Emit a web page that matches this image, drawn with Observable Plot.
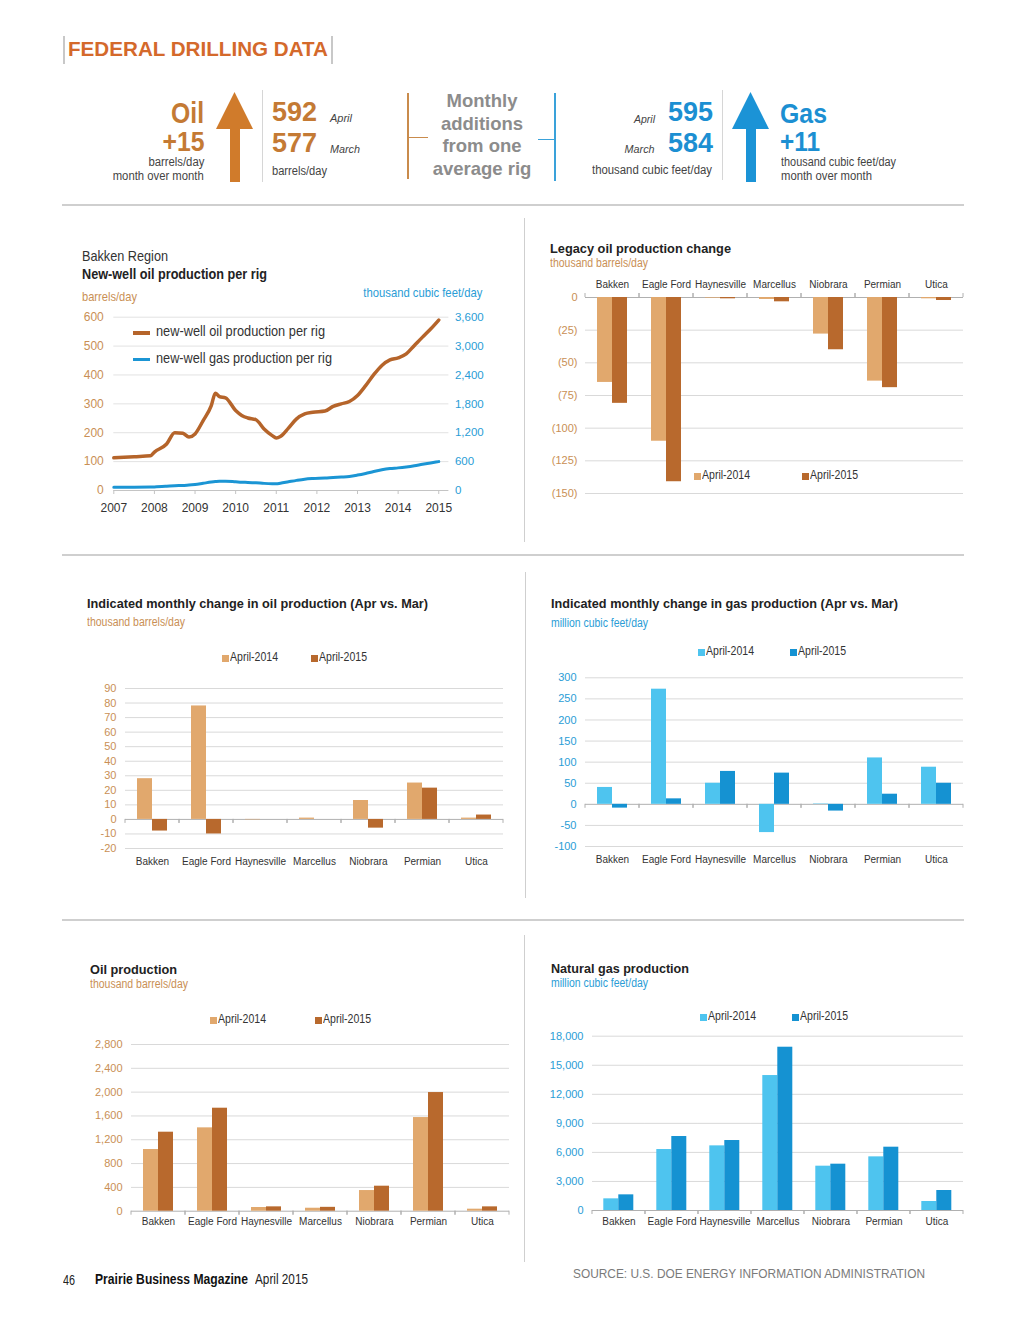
<!DOCTYPE html>
<html><head><meta charset="utf-8">
<script src="https://cdn.jsdelivr.net/npm/d3@7"></script>
<script src="https://cdn.jsdelivr.net/npm/@observablehq/plot@0.6"></script>
<style>
body{margin:0;background:#fff;}
#page{position:relative;width:1024px;height:1329px;overflow:hidden;background:#fff;font-family:"Liberation Sans",Arial,sans-serif;color:#333;}
.t{position:absolute;white-space:nowrap;line-height:1;}
.hl{position:absolute;height:2px;background:#cfcfcf;}
.vl{position:absolute;width:1px;background:#cfcfcf;}
.plot{position:absolute;}
.sq{position:absolute;width:7px;height:7px;}
</style>
</head><body><div id="page"></div>
<script>
// ---------------- DATA ----------------
const regions = ["Bakken","Eagle Ford","Haynesville","Marcellus","Niobrara","Permian","Utica"];
const seriesNames = ["April-2014","April-2015"];

const legacyOil2014 = [-65,-110,-0.5,-1.5,-28,-64,-1];
const legacyOil2015 = [-81,-141,-1,-3.3,-40,-69,-2.3];

const oilChange2014 = [28,78,-0.3,0.9,13,25,0.9];
const oilChange2015 = [-8,-10,0,0,-6,21.5,3];

const gasChange2014 = [40,273,50,-67,1,110,88];
const gasChange2015 = [-9,13,78,74,-16,24,50];

const oilProd2014 = [1036,1400,62,50,347,1573,34];
const oilProd2015 = [1327,1730,73,65,420,1993,73];

const gasProd2014 = [1204,6297,6676,13937,4577,5540,929];
const gasProd2015 = [1617,7640,7227,16862,4783,6538,2065];

// Bakken new-well production per rig
const rigTime = [2007.0,2007.5,2007.9,2008.0,2008.3,2008.5,2008.7,2008.85,2009.0,2009.2,2009.4,2009.5,2009.6,2009.75,2010.0,2010.15,2010.3,2010.5,2010.7,2010.9,2011.0,2011.1,2011.3,2011.5,2011.7,2011.9,2012.2,2012.4,2012.6,2012.8,2013.0,2013.2,2013.4,2013.6,2013.8,2014.0,2014.2,2014.4,2014.6,2014.8,2015.0];
const oilPerRig = [113,117,120,133,161,200,198,185,196,242,294,337,325,321,277,260,251,245,213,190,182,187,216,248,265,271,275,291,300,308,329,363,401,433,452,459,473,502,531,559,590];
const gasPerRig = [70,70,72,75,88,98,105,112,125,150,175,185,192,192,180,172,168,160,148,140,138,150,180,210,235,248,258,270,280,292,320,355,395,430,455,470,490,515,545,572,600];
const rigYears = [2007,2008,2009,2010,2011,2012,2013,2014,2015];
const oilAxisTicks = [0,100,200,300,400,500,600];
const gasAxisTicks = [0,600,1200,1800,2400,3000,3600];

const legacyTicks = [0,-25,-50,-75,-100,-125,-150];
const oilChangeTicks = [-20,-10,0,10,20,30,40,50,60,70,80,90];
const gasChangeTicks = [-100,-50,0,50,100,150,200,250,300];
const oilProdTicks = [0,400,800,1200,1600,2000,2400,2800];
const gasProdTicks = [0,3000,6000,9000,12000,15000,18000];

// ---------------- STYLE ----------------
const oilColors = ["#e1a86d","#b8692d"];
const gasColors = ["#4ec4ef","#1592d2"];
const TAN = "#c98f55", BLUE = "#2a9dd6", OILLINE = "#b5642a", GASLINE = "#1b95d4";
const FONT = "Liberation Sans, Arial, sans-serif";
const page = document.getElementById("page");

// text helper: cy = visual centre, opts.w = target width (horizontal squeeze to mimic narrow type)
function txt(s, x, cy, size, opts = {}) {
  const d = document.createElement("div");
  d.className = "t";
  d.textContent = s;
  d.style.fontSize = size + "px";
  d.style.top = (cy - size * 0.55) + "px";
  let origin = "left";
  if (opts.right !== undefined) { d.style.right = (1024 - opts.right) + "px"; d.style.textAlign = "right"; origin = "right"; }
  else d.style.left = x + "px";
  if (opts.bold) d.style.fontWeight = "bold";
  if (opts.italic) d.style.fontStyle = "italic";
  if (opts.color) d.style.color = opts.color;
  page.appendChild(d);
  if (opts.w) {
    const nat = d.getBoundingClientRect().width;
    if (nat > 0) { d.style.transformOrigin = origin + " center"; d.style.transform = `scaleX(${opts.w / nat})`; }
  }
  return d;
}
function hl(x, y, w, color, h) { const d = document.createElement("div"); d.className = "hl"; Object.assign(d.style, {left: x+"px", top: y+"px", width: w+"px"}); if (color) d.style.background = color; if (h) d.style.height = h+"px"; page.appendChild(d); }
function vl(x, y, h, color, w) { const d = document.createElement("div"); d.className = "vl"; Object.assign(d.style, {left: x+"px", top: y+"px", height: h+"px"}); if (color) d.style.background = color; if (w) d.style.width = w+"px"; page.appendChild(d); }
function sq(x, cy, color) { const d = document.createElement("div"); d.className = "sq"; Object.assign(d.style, {left: x+"px", top: (cy-3.5)+"px", background: color}); page.appendChild(d); }
function place(node, left, top) { node.classList.add("plot"); node.style.left = left + "px"; node.style.top = top + "px"; page.appendChild(node); }
function legend(x1, x2, cy, colors) {
  sq(x1, cy, colors[0]); txt(seriesNames[0], x1 + 8, cy, 12, {w: 48, color: "#333"});
  sq(x2, cy, colors[1]); txt(seriesNames[1], x2 + 8, cy, 12, {w: 48, color: "#333"});
}
function arrow(x, color) {
  const ns = "http://www.w3.org/2000/svg";
  const s = document.createElementNS(ns, "svg");
  s.setAttribute("width", 40); s.setAttribute("height", 92);
  s.style.position = "absolute"; s.style.left = x + "px"; s.style.top = "92px";
  const p = document.createElementNS(ns, "polygon");
  p.setAttribute("points", "18.5,0 37,37 24,37 24,90 14,90 14,37 0,37");
  p.setAttribute("fill", color);
  s.appendChild(p); page.appendChild(s);
}

// ---------------- HEADER ----------------
txt("FEDERAL DRILLING DATA", 68, 50, 20.5, {bold: true, color: "#d4692b", w: 260});
vl(63, 36, 28, "#c8c8c8", 2); vl(331, 36, 28, "#c8c8c8", 2);

const OILH = "#c47a34", GASH = "#1c8fd2", SMALL = "#444";
txt("Oil", 0, 114, 30, {right: 204, bold: true, color: OILH, w: 33});
txt("+15", 0, 143, 28, {right: 204, bold: true, color: OILH, w: 42});
txt("barrels/day", 0, 163, 12, {right: 204, color: SMALL, w: 56});
txt("month over month", 0, 177, 12, {right: 204, color: SMALL, w: 91});
arrow(216, "#d07b2b");
vl(262, 90, 92, "#d6d6d6");
txt("592", 272, 113, 28, {bold: true, color: OILH, w: 45});
txt("April", 330, 119, 11, {italic: true, color: SMALL, w: 22});
txt("577", 272, 144, 28, {bold: true, color: OILH, w: 45});
txt("March", 330, 150, 11, {italic: true, color: SMALL, w: 30});
txt("barrels/day", 272, 172, 12, {color: SMALL, w: 55});
vl(407, 93, 86, "#c98b4c", 2); hl(408, 137, 20, "#c98b4c", 1);
(function(){
  const d = document.createElement("div");
  d.className = "t";
  Object.assign(d.style, {left: "402px", top: "90px", width: "160px", textAlign: "center", fontWeight: "bold", fontSize: "18.5px", lineHeight: "22.7px", color: "#8c8c8c", whiteSpace: "normal"});
  d.innerHTML = "Monthly<br>additions<br>from one<br>average rig";
  page.appendChild(d);
})();
hl(538, 139, 17, "#3aa2da", 1); vl(554, 93, 88, "#3aa2da", 2);
txt("April", 0, 120, 11, {right: 655, italic: true, color: SMALL, w: 21});
txt("595", 668, 113, 28, {bold: true, color: GASH, w: 45});
txt("March", 0, 150, 11, {right: 655, italic: true, color: SMALL, w: 30});
txt("584", 668, 144, 28, {bold: true, color: GASH, w: 45});
txt("thousand cubic feet/day", 592, 171, 12, {color: SMALL, w: 120});
vl(722, 90, 90, "#d6d6d6");
arrow(732, "#1b93d6");
txt("Gas", 780, 115, 28, {bold: true, color: GASH, w: 47});
txt("+11", 780, 143, 28, {bold: true, color: GASH, w: 40});
txt("thousand cubic feet/day", 781, 163, 12, {color: SMALL, w: 115});
txt("month over month", 781, 177, 12, {color: SMALL, w: 91});

// separators
hl(62, 204, 902); hl(62, 554, 902); hl(62, 919, 902);
vl(524, 218, 324); vl(525, 572, 326); vl(524, 935, 327);

// ---------------- LINE CHART ----------------
txt("Bakken Region", 82, 256, 15, {color: "#333", w: 86});
txt("New-well oil production per rig", 82, 274, 15, {bold: true, color: "#222", w: 185});
txt("barrels/day", 82, 297, 13, {color: TAN, w: 55});
txt("thousand cubic feet/day", 0, 293, 13, {right: 482, color: BLUE, w: 119});

const rigData = rigTime.map((t, i) => ({t, oil: oilPerRig[i], gas: gasPerRig[i]}));
const gasToOil = 600 / 3600;
const lineChart = Plot.plot({
  width: 430, height: 215,
  marginLeft: 43.3, marginRight: 51.6, marginTop: 11.7, marginBottom: 30,
  style: {fontFamily: FONT, fontSize: "12px", background: "transparent", overflow: "visible"},
  x: {domain: [2007, 2015.25], axis: null},
  y: {domain: [0, 600], axis: null},
  marks: [
    Plot.gridY(oilAxisTicks.filter(d => d > 0), {stroke: "#e2e2e2", strokeOpacity: 1}),
    Plot.ruleY([0], {stroke: "#c4c4c4"}),
    Plot.axisX(rigYears, {label: null, tickSize: 4, stroke: "#c4c4c4", tickPadding: 9, tickFormat: d => String(d), fill: "#333", fontSize: 12}),
    Plot.axisY(oilAxisTicks, {label: null, anchor: "left", tickSize: 0, tickPadding: 10, fill: TAN, fontSize: 12}),
    Plot.axisY(gasAxisTicks.map(d => d * gasToOil), {label: null, anchor: "right", tickSize: 0, tickPadding: 6, tickFormat: d => d3.format(",")(Math.round(d / gasToOil)), fill: BLUE, fontSize: 11.5}),
    Plot.line(rigData, {x: "t", y: d => d.gas * gasToOil, stroke: GASLINE, strokeWidth: 3, curve: "monotone-x"}),
    Plot.line(rigData, {x: "t", y: "oil", stroke: OILLINE, strokeWidth: 3.5, curve: "monotone-x"})
  ]
});
place(lineChart, 70, 305);
hl(133, 331, 17, OILLINE, 3.5); txt("new-well oil production per rig", 156, 332, 14.5, {color: "#333", w: 169});
hl(133, 358, 17, GASLINE, 3); txt("new-well gas production per rig", 156, 359, 14.5, {color: "#333", w: 176});

// ---------------- GROUPED BAR CHARTS ----------------
function table(v14, v15) {
  return regions.flatMap((r, i) => [
    {region: r, series: seriesNames[0], value: v14[i]},
    {region: r, series: seriesNames[1], value: v15[i]}
  ]);
}
function boundaryTicks(dir) {
  return (index, scales, values, dimensions) => {
    const g = d3.create("svg:g");
    const y0 = scales.y(0);
    let r;
    try { r = scales.x.range(); } catch (e) { r = [dimensions.marginLeft, dimensions.width - dimensions.marginRight]; }
    for (const x of r) g.append("line").attr("x1", x).attr("x2", x).attr("y1", y0).attr("y2", y0 + 4 * dir).attr("stroke", "#b0b0b0");
    return g.node();
  };
}
function groupedBars(c) {
  return Plot.plot({
    width: c.width, height: c.height,
    marginLeft: c.ml, marginRight: c.mr, marginTop: c.mt, marginBottom: c.mb,
    style: {fontFamily: FONT, fontSize: "10px", background: "transparent", overflow: "visible"},
    fx: {domain: regions, padding: 0, label: null},
    x: {domain: seriesNames, paddingInner: 0, paddingOuter: 0.7, axis: null},
    y: {domain: c.yDomain, axis: null},
    color: {domain: seriesNames, range: c.colors},
    marks: [
      Plot.gridY(c.ticks.filter(d => d !== 0), {stroke: "#d9d9d9", strokeOpacity: 1}),
      Plot.ruleY([0], {stroke: "#b0b0b0"}),
      boundaryTicks(c.tickDir),
      Plot.barY(table(c.v14, c.v15), {fx: "region", x: "series", y: "value", fill: "series"}),
      Plot.axisY(c.ticks, {label: null, tickSize: 0, tickPadding: c.tp, tickFormat: c.fmt || (d => d3.format(",")(d).replace("−", "-")), fill: c.tickColor, fontSize: 11}),
      Plot.axisFx({anchor: c.fxAnchor, tickSize: 0, tickPadding: c.fxPad, label: null, fontSize: 10, fill: "#333"})
    ]
  });
}

// Legacy oil production change
txt("Legacy oil production change", 550, 249, 13.5, {bold: true, color: "#222", w: 181});
txt("thousand barrels/day", 550, 264, 12, {color: TAN, w: 98});
place(groupedBars({
  width: 430, height: 230, ml: 43, mr: 5, mt: 22, mb: 12,
  yDomain: [-150, 0], ticks: legacyTicks, tp: 8, tickColor: TAN,
  fmt: d => d === 0 ? "0" : `(${-d})`,
  v14: legacyOil2014, v15: legacyOil2015, colors: oilColors,
  fxAnchor: "top", fxPad: 10, tickDir: -1
}), 540, 275);
legend(694, 802, 476, oilColors);

// Monthly change in oil production
txt("Indicated monthly change in oil production (Apr vs. Mar)", 87, 604, 13.5, {bold: true, color: "#222", w: 341});
txt("thousand barrels/day", 87, 623, 12, {color: TAN, w: 98});
legend(222, 311, 658, oilColors);
place(groupedBars({
  width: 450, height: 200, ml: 52, mr: 15, mt: 13, mb: 27,
  yDomain: [-20, 90], ticks: oilChangeTicks, tp: 9, tickColor: TAN,
  v14: oilChange2014, v15: oilChange2015, colors: oilColors,
  fxAnchor: "bottom", fxPad: 9, tickDir: 1
}), 70, 675);

// Monthly change in gas production
txt("Indicated monthly change in gas production (Apr vs. Mar)", 551, 604, 13.5, {bold: true, color: "#222", w: 347});
txt("million cubic feet/day", 551, 624, 12, {color: BLUE, w: 97});
legend(698, 790, 652, gasColors);
place(groupedBars({
  width: 430, height: 200, ml: 45, mr: 7, mt: 7.3, mb: 24,
  yDomain: [-100, 300], ticks: gasChangeTicks, tp: 9, tickColor: BLUE,
  v14: gasChange2014, v15: gasChange2015, colors: gasColors,
  fxAnchor: "bottom", fxPad: 9, tickDir: 1
}), 540, 670);

// Oil production
txt("Oil production", 90, 970, 13.5, {bold: true, color: "#222", w: 87});
txt("thousand barrels/day", 90, 985, 12, {color: TAN, w: 98});
legend(210, 315, 1020, oilColors);
place(groupedBars({
  width: 450, height: 200, ml: 60, mr: 10, mt: 9, mb: 24.3,
  yDomain: [0, 2800], ticks: oilProdTicks, tp: 9, tickColor: TAN,
  v14: oilProd2014, v15: oilProd2015, colors: oilColors,
  fxAnchor: "bottom", fxPad: 7, tickDir: 1
}), 70, 1035);

// Natural gas production
txt("Natural gas production", 551, 969, 13.5, {bold: true, color: "#222", w: 138});
txt("million cubic feet/day", 551, 984, 12, {color: BLUE, w: 97});
legend(700, 792, 1017, gasColors);
place(groupedBars({
  width: 430, height: 205, ml: 51.7, mr: 7.3, mt: 10.7, mb: 20,
  yDomain: [0, 18000], ticks: gasProdTicks, tp: 9, tickColor: BLUE,
  v14: gasProd2014, v15: gasProd2015, colors: gasColors,
  fxAnchor: "bottom", fxPad: 7, tickDir: 1
}), 540, 1025);

// ---------------- FOOTER ----------------
txt("46", 63, 1281, 14, {color: "#222", w: 12});
txt("Prairie Business Magazine", 95, 1280, 14.5, {bold: true, color: "#111", w: 153});
txt("April 2015", 255, 1280, 14.5, {color: "#222", w: 53});
txt("SOURCE: U.S. DOE ENERGY INFORMATION ADMINISTRATION", 573, 1274, 13, {color: "#7a7a7a", w: 352});
</script>
</body></html>
